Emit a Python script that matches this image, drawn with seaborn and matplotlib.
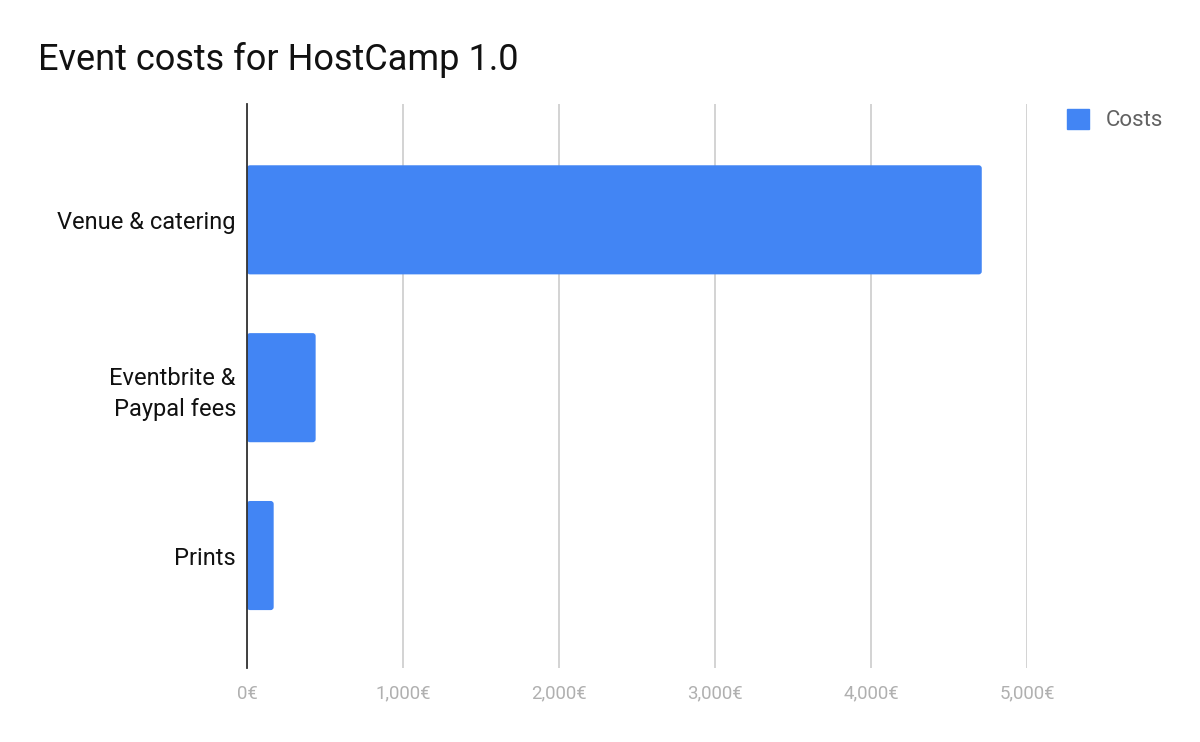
import matplotlib
matplotlib.use("Agg")
import matplotlib.pyplot as plt
import seaborn as sns
import pandas as pd
from matplotlib.ticker import FuncFormatter
from matplotlib.patches import Patch, FancyBboxPatch

categories = ["Venue & catering", "Eventbrite &\nPaypal fees", "Prints"]
costs = [4710, 440, 171]
series_name = "Costs"
x_ticks = [0, 1000, 2000, 3000, 4000, 5000]

sns.set_style("white")
plt.rcParams['font.family'] = ['Roboto', 'DejaVu Sans']

df = pd.DataFrame({"category": categories, "value": costs})

fig = plt.figure(figsize=(12, 7.42), dpi=100)
ax = fig.add_axes([247/1200, 1 - 668/742, 780/1200, 564/742])

color = "#4285F4"
sns.barplot(data=df, x="value", y="category", orient="h", color=color,
            width=0.65, ax=ax, saturation=1)

ax.set_xlim(0, 5000)
ax.set_ylim(2.67, -0.69)

# round the bar corners slightly (as in the reference)
x_per_px = 5000 / 780
y_per_px = 3.36 / 564
for p in list(ax.patches):
    x0, y0 = p.get_x(), p.get_y()
    w, h = p.get_width(), p.get_height()
    fb = FancyBboxPatch((x0, y0), w, h,
                        boxstyle=f"round,pad=0,rounding_size={3 * x_per_px}",
                        mutation_aspect=y_per_px / x_per_px,
                        facecolor=color, edgecolor="none", zorder=p.get_zorder())
    p.set_visible(False)
    ax.add_patch(fb)

ax.set_xticks(x_ticks)
ax.xaxis.set_major_formatter(FuncFormatter(lambda v, p: f"{int(v):,}€"))
ax.grid(axis="x", color="#cccccc", linewidth=1.2)
ax.set_axisbelow(True)
for s in ["top", "right", "bottom"]:
    ax.spines[s].set_visible(False)
ax.spines["left"].set_color("#333333")
ax.spines["left"].set_linewidth(1.3)
ax.spines["left"].set_zorder(5)
ax.set_xlabel("")
ax.set_ylabel("")
ax.tick_params(axis="x", colors="#b0b0b0", labelsize=13.4, length=0, pad=12)
ax.tick_params(axis="y", colors="#111111", labelsize=17, length=0, pad=8)
for t in ax.get_xticklabels():
    t.set_color("#b0b0b0")
for t in ax.get_yticklabels():
    t.set_color("#111111")
    t.set_horizontalalignment("right")
    t.set_multialignment("right")
    t.set_linespacing(1.45)

fig.text(38/1200, 1 - 60/742, "Event costs for HostCamp 1.0", fontsize=26,
         color="#111111", va="center", ha="left")

handle = Patch(facecolor=color, edgecolor=color, label=series_name)
fig.legend(handles=[handle], loc="center left", bbox_to_anchor=(1047/1200, 1 - 120/742),
           frameon=False, fontsize=16, handlelength=1.0, handleheight=1.0,
           handletextpad=0.75, labelcolor="#616161")

fig.savefig("out.png", dpi=100)
